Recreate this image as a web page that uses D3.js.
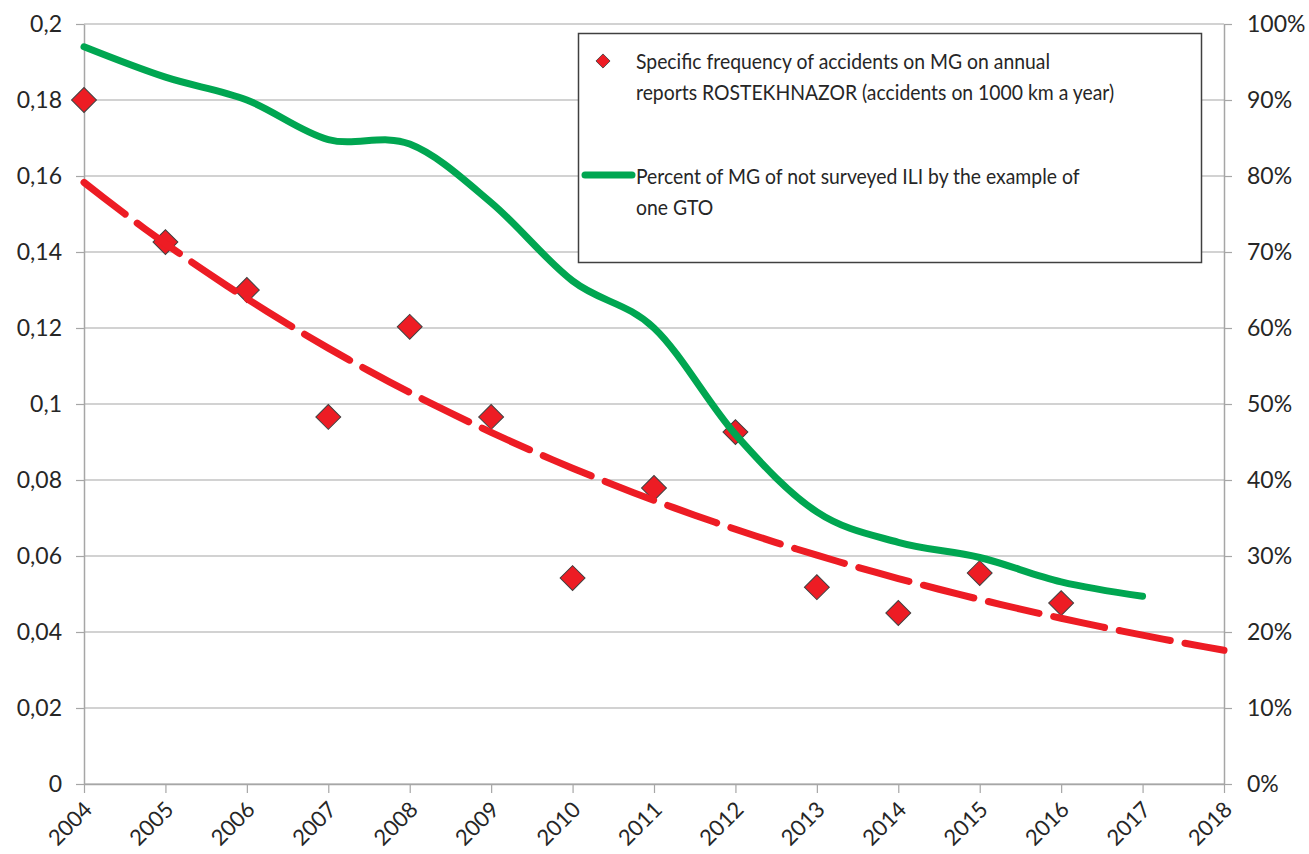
<!DOCTYPE html>
<html>
<head>
<meta charset="utf-8">
<script src="https://cdn.jsdelivr.net/npm/d3@7"></script>
<style>
  html, body { margin: 0; padding: 0; background: #fff; }
  svg text { font-family: Lato, 'Open Sans', sans-serif; fill: #262626; }
</style>
</head>
<body>
<svg id="chart" width="1309" height="854"></svg>
<script>
'use strict';

// Data
var years = [2004, 2005, 2006, 2007, 2008, 2009, 2010, 2011, 2012, 2013, 2014, 2015, 2016];
var accidents = [0.18, 0.1426, 0.130, 0.0966, 0.1203, 0.0966, 0.0542, 0.0779, 0.0926, 0.0518, 0.045, 0.0555, 0.0476];

var pctYears = [2004, 2005, 2006, 2007, 2008, 2009, 2010, 2011, 2012, 2013, 2014, 2015, 2016, 2017];
var notSurveyed = [0.97, 0.93, 0.90, 0.848, 0.842, 0.765, 0.662, 0.60, 0.46, 0.358, 0.318, 0.298, 0.266, 0.247];

var xTicks = [2004, 2005, 2006, 2007, 2008, 2009, 2010, 2011, 2012, 2013, 2014, 2015, 2016, 2017, 2018];
var yTicks = [0, 0.02, 0.04, 0.06, 0.08, 0.1, 0.12, 0.14, 0.16, 0.18, 0.2];
var pctTicks = [0, 0.1, 0.2, 0.3, 0.4, 0.5, 0.6, 0.7, 0.8, 0.9, 1];

var legendLabels = [
  ['Specific frequency of accidents on MG on annual', 'reports ROSTEKHNAZOR (accidents on 1000 km a year)'],
  ['Percent of MG of not surveyed ILI by the example of', 'one GTO']
];

var RED = '#ed1c24', GREEN = '#00a651', GRID = '#a6a6a6';

var svg = d3.select('#chart');
var margin = {top: 24, right: 85, bottom: 70, left: 84};
var width = 1309 - margin.left - margin.right;
var height = 854 - margin.top - margin.bottom;

var g = svg.append('g').attr('transform', 'translate(' + margin.left + ',' + margin.top + ')');

var x = d3.scaleLinear().domain([2004, 2018]).range([0, width]);
var y = d3.scaleLinear().domain([0, 0.2]).range([height, 0]);
var y2 = d3.scaleLinear().domain([0, 1]).range([height, 0]);

var comma = d3.formatLocale({decimal: ',', thousands: ' ', grouping: [3], currency: ['', '']});
var fmtY = comma.format('.2~f');
var fmtPct = d3.format('.0%');

// Horizontal gridlines
g.append('g').selectAll('line').data(yTicks).enter().append('line')
  .attr('x1', 0).attr('x2', width)
  .attr('y1', function (d) { return y(d); }).attr('y2', function (d) { return y(d); })
  .attr('stroke', GRID).attr('stroke-width', 1.2);

function styleAxis(sel) {
  sel.select('.domain').attr('stroke', GRID).attr('stroke-width', 1.5);
  sel.selectAll('.tick line').attr('stroke', GRID).attr('stroke-width', 1.2);
  sel.selectAll('.tick text').attr('fill', '#262626').style('font-size', '23px').attr('font-family', null);
}

// Left axis
var yAxis = g.append('g')
  .call(d3.axisLeft(y).tickValues(yTicks).tickFormat(fmtY).tickSize(8).tickSizeOuter(0).tickPadding(14));
styleAxis(yAxis);

// Right axis
var y2Axis = g.append('g').attr('transform', 'translate(' + width + ',0)')
  .call(d3.axisRight(y2).tickValues(pctTicks).tickFormat(fmtPct).tickSize(8).tickSizeOuter(0).tickPadding(15));
styleAxis(y2Axis);

// Bottom axis, labels at 45 degrees
var xAxis = g.append('g').attr('transform', 'translate(0,' + height + ')')
  .call(d3.axisBottom(x).tickValues(xTicks).tickFormat(d3.format('d')).tickSize(9).tickSizeOuter(0));
styleAxis(xAxis);
xAxis.selectAll('.tick text')
  .style('font-size', '22px')
  .attr('text-anchor', 'end')
  .attr('y', 0).attr('dy', 0)
  .attr('transform', 'translate(9,27) rotate(-45)');

// Diamonds (drawn first, the lines sit on top)
var diamond = d3.symbol().type(d3.symbolSquare).size(310);
g.append('g').selectAll('path').data(years).enter().append('path')
  .attr('d', diamond)
  .attr('transform', function (d, i) { return 'translate(' + x(d) + ',' + y(accidents[i]) + ') rotate(45)'; })
  .attr('fill', RED).attr('stroke', '#404040').attr('stroke-width', 1);

// Exponential trendline fitted to the accident points, projected 2 years forward
var lnY = accidents.map(function (v) { return Math.log(v); });
var mx = d3.mean(years), my = d3.mean(lnY);
var sxy = d3.sum(years, function (d, i) { return (d - mx) * (lnY[i] - my); });
var sxx = d3.sum(years, function (d) { return (d - mx) * (d - mx); });
var slope = sxy / sxx, icpt = my - slope * mx;
var trendX = d3.range(2004, 2018.001, 0.25);

g.append('path')
  .datum(trendX)
  .attr('fill', 'none').attr('stroke', RED).attr('stroke-width', 7)
  .attr('stroke-linecap', 'round').attr('stroke-dasharray', '52,15')
  .attr('d', d3.line()
    .x(function (d) { return x(d); })
    .y(function (d) { return y(Math.exp(icpt + slope * d)); }));

// Smoothed percent line on the right axis
g.append('path')
  .datum(pctYears)
  .attr('fill', 'none').attr('stroke', GREEN).attr('stroke-width', 7)
  .attr('stroke-linecap', 'round')
  .attr('d', d3.line()
    .curve(d3.curveCardinal.tension(0))
    .x(function (d) { return x(d); })
    .y(function (d, i) { return y2(notSurveyed[i]); }));

// Legend
var lg = svg.append('g');
lg.append('rect').attr('x', 578.5).attr('y', 33.5).attr('width', 623).attr('height', 229)
  .attr('fill', '#fff').attr('stroke', '#404040').attr('stroke-width', 1.5);

lg.append('path').attr('d', d3.symbol().type(d3.symbolSquare).size(100))
  .attr('transform', 'translate(603,61) rotate(45)')
  .attr('fill', RED).attr('stroke', '#404040').attr('stroke-width', 0.8);

lg.append('line').attr('x1', 585).attr('x2', 632).attr('y1', 175).attr('y2', 175)
  .attr('stroke', GREEN).attr('stroke-width', 7).attr('stroke-linecap', 'round');

// Calibri is narrower than anything installed, so squeeze the lines a bit
var legendY = [69, 100, 184, 215];
legendLabels.forEach(function (lines, k) {
  lines.forEach(function (t, j) {
    lg.append('text')
      .attr('transform', 'translate(636,' + legendY[k * 2 + j] + ') scale(0.88,1)')
      .style('font-size', '22px').text(t);
  });
});
</script>
</body>
</html>
